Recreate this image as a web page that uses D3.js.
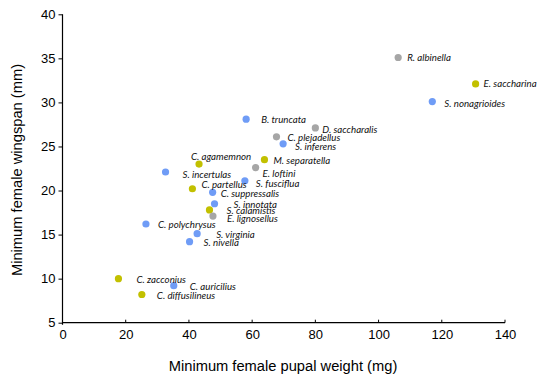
<!DOCTYPE html>
<html><head><meta charset="utf-8">
<script src="https://cdn.jsdelivr.net/npm/d3@7"></script>
<style>body{margin:0;background:#fff}</style>
</head><body>
<svg id="c" width="550" height="379"></svg>
<script>
const species = ["R. albinella","E. saccharina","S. nonagrioides","D. saccharalis","B. truncata","C. plejadellus","S. inferens","C. agamemnon","M. separatella","E. loftini","S. incertulas","S. fusciflua","C. partellus","C. suppressalis","S. innotata","S. calamistis","E. lignosellus","C. polychrysus","S. virginia","S. nivella","C. zacconius","C. auricilius","C. diffusilineus"];
const pupalWeight = [106.2,130.7,117,80,58.1,67.7,69.8,43.2,63.9,61.1,32.6,57.7,41.1,47.5,48.1,46.5,47.6,26.4,42.6,40.2,17.7,35.2,25.1];
const wingspan = [35.1,32.1,30.1,27.1,28.1,26.1,25.3,23.0,23.5,22.6,22.1,21.1,20.2,19.8,18.5,17.8,17.1,16.2,15.1,14.2,10.0,9.2,8.2];
const group = ["g","y","b","g","b","g","b","y","y","g","b","b","y","b","b","y","g","b","b","b","y","b","y"];
const xTicks = [0,20,40,60,80,100,120,140];
const yTicks = [5,10,15,20,25,30,35,40];

const colors = {b:"#6f9cf6", g:"#a6a6a6", y:"#c2c000"};
const labelOffsets = [[9,0],[8,-1],[12,1],[7,1],[15,0],[11,0],[12,2],[-8,-8],[9,0],[7,5],[17,2],[11,2],[9,-5],[8,1],[19,0],[17,0],[14,2],[12,0],[19,0],[14,0],[18,0],[16,0],[15,0]];

const svg = d3.select("#c");
const x = d3.scaleLinear().domain([0,140]).range([62.5,505]);
const y = d3.scaleLinear().domain([5,40]).range([322.7,14.3]);
const FONT = "'Liberation Sans', Arial, sans-serif";

// axes
const xa = svg.append("g").attr("transform",`translate(0,${y(5)})`)
  .call(d3.axisBottom(x).tickValues(xTicks).tickSize(0).tickPadding(7));
xa.select(".domain").remove();
xa.selectAll(".tick text").attr("font-family",FONT).attr("font-size",13).attr("fill","#000");
svg.append("g").selectAll("line").data(xTicks).join("line")
  .attr("x1",d=>x(d)).attr("x2",d=>x(d)).attr("y1",y(5)).attr("y2",y(5)-3)
  .attr("stroke","#000").attr("stroke-width",1);
svg.append("line").attr("x1",x(0)).attr("x2",x(140)).attr("y1",y(5)).attr("y2",y(5)).attr("stroke","#000").attr("stroke-width",1.2);

const ya = svg.append("g").attr("transform",`translate(${x(0)},0)`)
  .call(d3.axisLeft(y).tickValues(yTicks).tickSize(4).tickPadding(3));
ya.select(".domain").remove();
ya.selectAll(".tick line").attr("stroke","#000");
ya.selectAll(".tick text").attr("font-family",FONT).attr("font-size",13).attr("fill","#000");
svg.append("line").attr("x1",x(0)).attr("x2",x(0)).attr("y1",y(40)).attr("y2",y(5)+2).attr("stroke","#000").attr("stroke-width",1.2);

// titles
svg.append("text").attr("x",283).attr("y",370.5).attr("text-anchor","middle")
  .attr("font-family",FONT).attr("font-size",14.7).text("Minimum female pupal weight (mg)");
svg.append("text").attr("transform","translate(22,170) rotate(-90)").attr("text-anchor","middle")
  .attr("font-family",FONT).attr("font-size",14.7).text("Minimum female wingspan (mm)");

// points
const idx = d3.range(species.length);
svg.append("g").selectAll("circle").data(idx).join("circle")
  .attr("cx",i=>x(pupalWeight[i])).attr("cy",i=>y(wingspan[i])).attr("r",3.6)
  .attr("fill",i=>colors[group[i]]);
svg.append("g").selectAll("text").data(idx).join("text")
  .attr("x",i=>x(pupalWeight[i])+labelOffsets[i][0])
  .attr("y",i=>y(wingspan[i])+labelOffsets[i][1])
  .attr("dominant-baseline","central")
  .attr("font-family","Lato, sans-serif").attr("font-style","italic").attr("font-size",9.7)
  .attr("fill","#111").text(i=>species[i]);
</script>
</body></html>
